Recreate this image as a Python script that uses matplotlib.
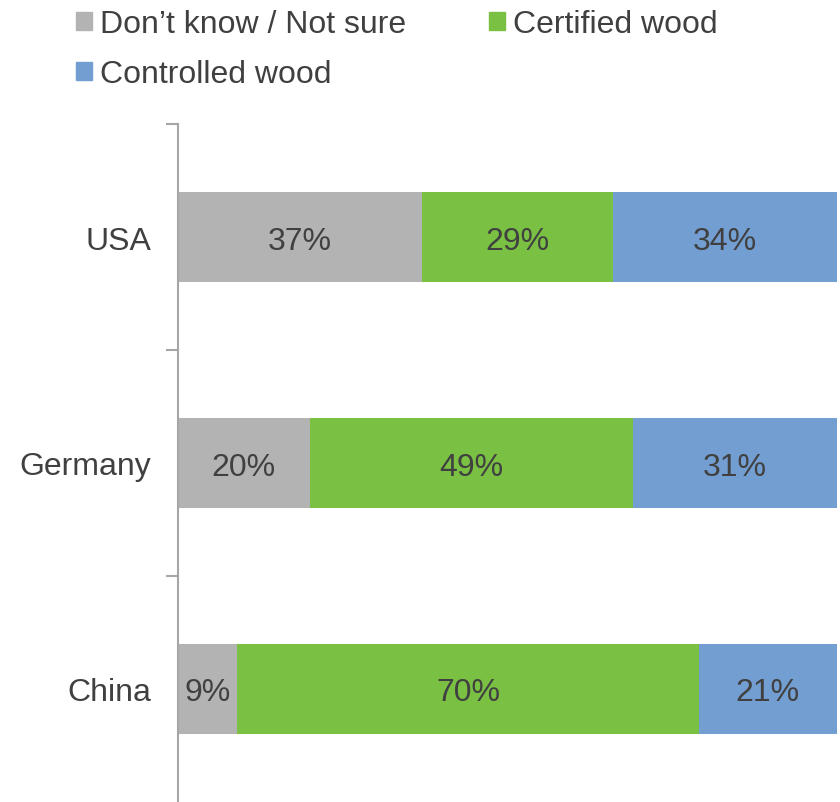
import matplotlib.pyplot as plt
from matplotlib.patches import Patch

plt.rcParams['font.family'] = ['Liberation Sans', 'DejaVu Sans']

# data (bottom to top)
countries = ["China", "Germany", "USA"]
dont_know = [9, 20, 37]
certified = [70, 49, 29]
controlled = [21, 31, 34]

series_names = ["Don\u2019t know / Not sure", "Certified wood", "Controlled wood"]
colors = ["#B3B3B3", "#7AC143", "#739ED2"]
text_color = "#404040"
fs = 23


def main():
    fig = plt.figure(figsize=(8.4, 8.03), dpi=100)
    ax = fig.add_axes([178 / 840, 0, (837 - 178) / 840, 1 - 125 / 803])

    ypos = list(range(len(countries)))
    left = [0] * len(countries)
    for vals, col in zip([dont_know, certified, controlled], colors):
        ax.barh(ypos, vals, left=left, height=0.4, color=col, edgecolor="none")
        for y, l, v in zip(ypos, left, vals):
            ax.text(l + v / 2, y, f"{v}%", ha="center", va="center_baseline",
                    fontsize=fs, color=text_color)
        left = [a + b for a, b in zip(left, vals)]

    ax.set_xlim(0, 100)
    ax.set_ylim(-0.5, 2.5)
    ax.set_xticks([])
    ax.set_yticks(ypos)
    ax.set_yticklabels(countries, fontsize=fs, color=text_color)
    ax.tick_params(axis="y", which="major", length=0, pad=19)
    ax.set_yticks([0.5, 1.5, 2.5], minor=True)
    ax.tick_params(axis="y", which="minor", length=9, width=1.5, color="#A6A6A6")

    for s in ["top", "right", "bottom"]:
        ax.spines[s].set_visible(False)
    ax.spines["left"].set_color("#A6A6A6")
    ax.spines["left"].set_linewidth(1.5)

    # legend order so rows read: Don't know, Certified / Controlled
    handles = [Patch(color=colors[i]) for i in (0, 2, 1)]
    labels = [series_names[i] for i in (0, 2, 1)]
    fig.legend(handles, labels, ncol=2, loc="upper left",
               bbox_to_anchor=(60 / 840, 1 + 6 / 803), frameon=False,
               fontsize=fs, labelcolor=text_color,
               handlelength=0.5, handleheight=0.5, handletextpad=0.25,
               columnspacing=2.6, labelspacing=0.64, borderpad=0)

    fig.savefig("out.png", dpi=100)


if __name__ == "__main__":
    main()
